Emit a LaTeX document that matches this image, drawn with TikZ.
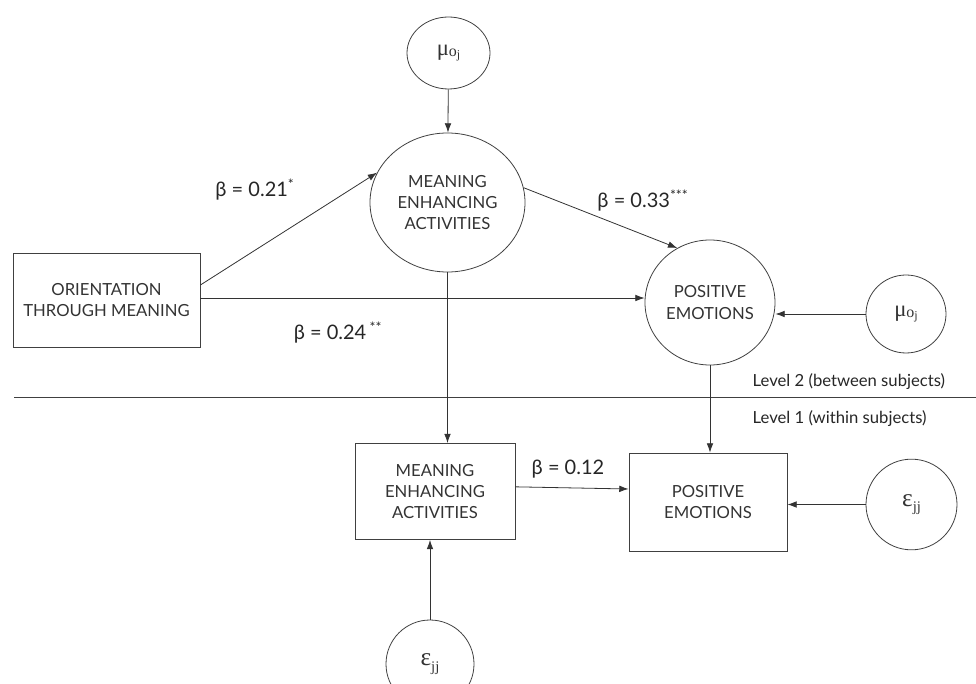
\documentclass[tikz,border=0pt]{standalone}
\usepackage{fontspec}
\setmainfont{Lato}
\newfontfamily\greekfont{Liberation Serif}
\usetikzlibrary{shapes.geometric,arrows.meta}
\newcommand{\muoj}{{\greekfont\fontsize{17}{20}\selectfont μ\raisebox{-0.05em}{\fontsize{12}{12}\selectfont o\raisebox{-0.12em}{\fontsize{9}{10}\selectfont j}}}}
\newcommand{\epsjj}{{\greekfont\fontsize{19}{20}\selectfont ε\raisebox{-0.22em}{\fontsize{11}{12}\selectfont jj}}}
\tikzset{
  conn/.style={draw=black!80, line width=0.6pt, -{Latex[length=7pt,width=5pt]}},
  oval/.style={ellipse, draw=black!75, line width=0.6pt, inner sep=0pt, align=center, text=black!80, font=\fontsize{12.5}{16}\selectfont},
  rbox/.style={rectangle, draw=black!75, line width=0.6pt, inner sep=0pt, align=center, text=black!80, font=\fontsize{12.5}{16}\selectfont},
  coef/.style={font=\fontsize{15}{18}\selectfont, text=black!85},
  lvl/.style={font=\fontsize{12.5}{14}\selectfont, anchor=west, text=black!85},
}
\begin{document}
\begin{tikzpicture}[x=0.75pt,y=-0.75pt]
\useasboundingbox (0,0) rectangle (976,684);
% level 2
\node[oval, minimum width=62.25pt, minimum height=54pt] (mutop) at (448.5,53) {\muoj};
\node[oval, minimum width=116.25pt, minimum height=104.25pt] (mea) at (447.5,202.5) {MEANING\\ENHANCING\\ACTIVITIES};
\node[rbox, minimum width=140.25pt, minimum height=70.5pt] (otm) at (106.5,300) {ORIENTATION\\THROUGH MEANING};
\node[oval, minimum width=97.5pt, minimum height=93.75pt] (pe) at (710,302.5) {POSITIVE\\EMOTIONS};
\node[oval, minimum width=60pt, minimum height=58.5pt] (muright) at (906,314) {\muoj};
% level divider
\coordinate (la) at (14,397);
\coordinate (lb) at (976,397);
\draw[black!75, line width=0.6pt] (la) -- (lb);
\node[lvl] (l2) at (748,382) {Level 2 (between subjects)};
\node[lvl] (l1) at (748,419) {Level 1 (within subjects)};
% level 1
\node[rbox, minimum width=120pt, minimum height=72pt] (meab) at (435,491.5) {MEANING\\ENHANCING\\ACTIVITIES};
\node[rbox, minimum width=118.5pt, minimum height=73.5pt] (peb) at (708,502) {POSITIVE\\EMOTIONS};
\node[oval, minimum width=68.25pt, minimum height=68pt] (epsr) at (911.5,504.5) {\epsjj};
\node[oval, minimum width=66pt, minimum height=66pt] (epsb) at (430,664) {\epsjj};
% connectors
\draw[conn] (mutop) -- (mea);
\draw[conn] ([yshift=11.25pt]otm.east) -- (mea.157);
\draw[conn] ([yshift=1.5pt]otm.east) coordinate (s1) -- (s1 -| pe.west);
\draw[conn] (mea.11) -- (pe.121);
\draw[conn] (muright.west) -- (muright.west -| pe.east);
\draw[conn] (mea.south) -- (meab.north -| mea.south);
\draw[conn] (pe.south) -- (pe.south |- peb.north);
\draw[conn] ([yshift=3.5pt]meab.east) -- ([yshift=9.75pt]peb.west);
\draw[conn] (epsr.west) -- (epsr.west -| peb.east);
\draw[conn] (epsb.north) -- (epsb.north |- meab.south);
% coefficients
\node[coef] (c1) at (255,190) {β = 0.21\textsuperscript{*}};
\node[coef] (c2) at (643,201) {β = 0.33\textsuperscript{***}};
\node[coef] (c3) at (338,333) {β = 0.24\,\textsuperscript{**}};
\node[coef] (c4) at (568,469) {β = 0.12};
\end{tikzpicture}
\end{document}
